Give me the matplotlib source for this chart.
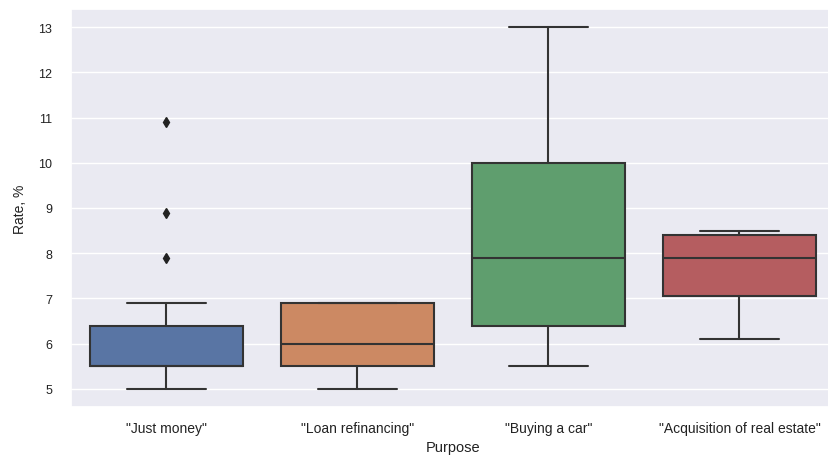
import matplotlib
matplotlib.use('Agg')
import matplotlib.pyplot as plt
import seaborn as sns

purposes = ['"Just money"', '"Loan refinancing"', '"Buying a car"', '"Acquisition of real estate"']
whisker_low = [5.0, 5.0, 5.5, 6.1]
q1 = [5.5, 5.5, 6.4, 7.05]
median = [5.5, 6.0, 7.9, 7.9]
q3 = [6.4, 6.9, 10.0, 8.4]
whisker_high = [6.9, 6.9, 13.0, 8.5]
outliers = [[7.9, 8.9, 10.9], [], [], []]

sns.set_theme(style='darkgrid')
plt.rcParams['font.family'] = ['Liberation Sans', 'DejaVu Sans']

colors = sns.color_palette('deep', 4, desat=0.75)
line_color = '#333333'
text_color = '#222222'

stats = []
for i, name in enumerate(purposes):
    stats.append({'label': name, 'whislo': whisker_low[i], 'q1': q1[i], 'med': median[i],
                  'q3': q3[i], 'whishi': whisker_high[i], 'fliers': outliers[i]})

fig = plt.figure(figsize=(8.29, 4.56), dpi=100)
ax = fig.add_axes([71 / 829, 1 - 408 / 456, 764 / 829, 398 / 456])

bp = ax.bxp(stats, positions=range(4), widths=0.8, patch_artist=True,
            boxprops=dict(edgecolor=line_color, linewidth=1.5),
            medianprops=dict(color=line_color, linewidth=1.5),
            whiskerprops=dict(color=line_color, linewidth=1.5),
            capprops=dict(color=line_color, linewidth=1.5),
            flierprops=dict(marker='d', markersize=5, markerfacecolor='#222222',
                            markeredgecolor='#222222'))
for box, c in zip(bp['boxes'], colors):
    box.set_facecolor(c)
for cap in bp['caps']:
    x0, x1 = cap.get_xdata()
    mid = (x0 + x1) / 2
    cap.set_xdata([mid - 0.205, mid + 0.205])

ax.grid(False, axis='x')
ax.set_xlim(-0.5, 3.5)
ax.set_ylim(4.6, 13.4)
ax.set_yticks(range(5, 14))
ax.tick_params(axis='x', labelsize=10, pad=4, labelcolor=text_color)
ax.tick_params(axis='y', labelsize=9, pad=7.5, labelcolor=text_color)
ax.set_xlabel('Purpose', fontsize=10.5, labelpad=4, color=text_color)
ax.set_ylabel('Rate, %', fontsize=10, labelpad=8, color=text_color)

fig.savefig('out.png', dpi=100)
